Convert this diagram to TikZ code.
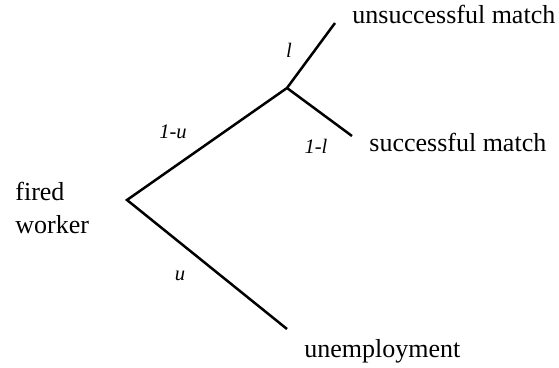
\documentclass[tikz,border=0pt]{standalone}
\usepackage{fontspec}
\setmainfont{Liberation Serif}
\begin{document}
\begin{tikzpicture}[x=0.5pt,y=-0.5pt,
  branch/.style={line width=1.25pt},
  outcome/.style={font=\fontsize{13}{16.5}\selectfont, inner sep=0pt, anchor=base west},
  prob/.style={font=\fontsize{10.3}{12}\selectfont\itshape, inner sep=0pt}]
\useasboundingbox (0,0) rectangle (559,368);
\coordinate (root) at (127,200);
\coordinate (mid) at (287,88);
\coordinate (um) at (335,23);
\coordinate (sm) at (352,136);
\coordinate (ue) at (287,329);
\draw[branch] (ue) -- (root) -- (mid) -- (um);
\draw[branch] (mid) -- (sm);
\node[outcome] (tum) at (352,24) {unsuccessful match};
\node[outcome] (tsm) at (369,152) {successful match};
\node[outcome] (tue) at (304,358) {unemployment};
\node[outcome, align=left, anchor=base west] (tfw) at (15,234) {fired\\worker};
\node[prob] (pl) at (289,50) {l};
\node[prob] (p1u) at (173,132) {1-u};
\node[prob] (p1l) at (316,146) {1-l};
\node[prob] (pu) at (180,276) {u};
\end{tikzpicture}
\end{document}
